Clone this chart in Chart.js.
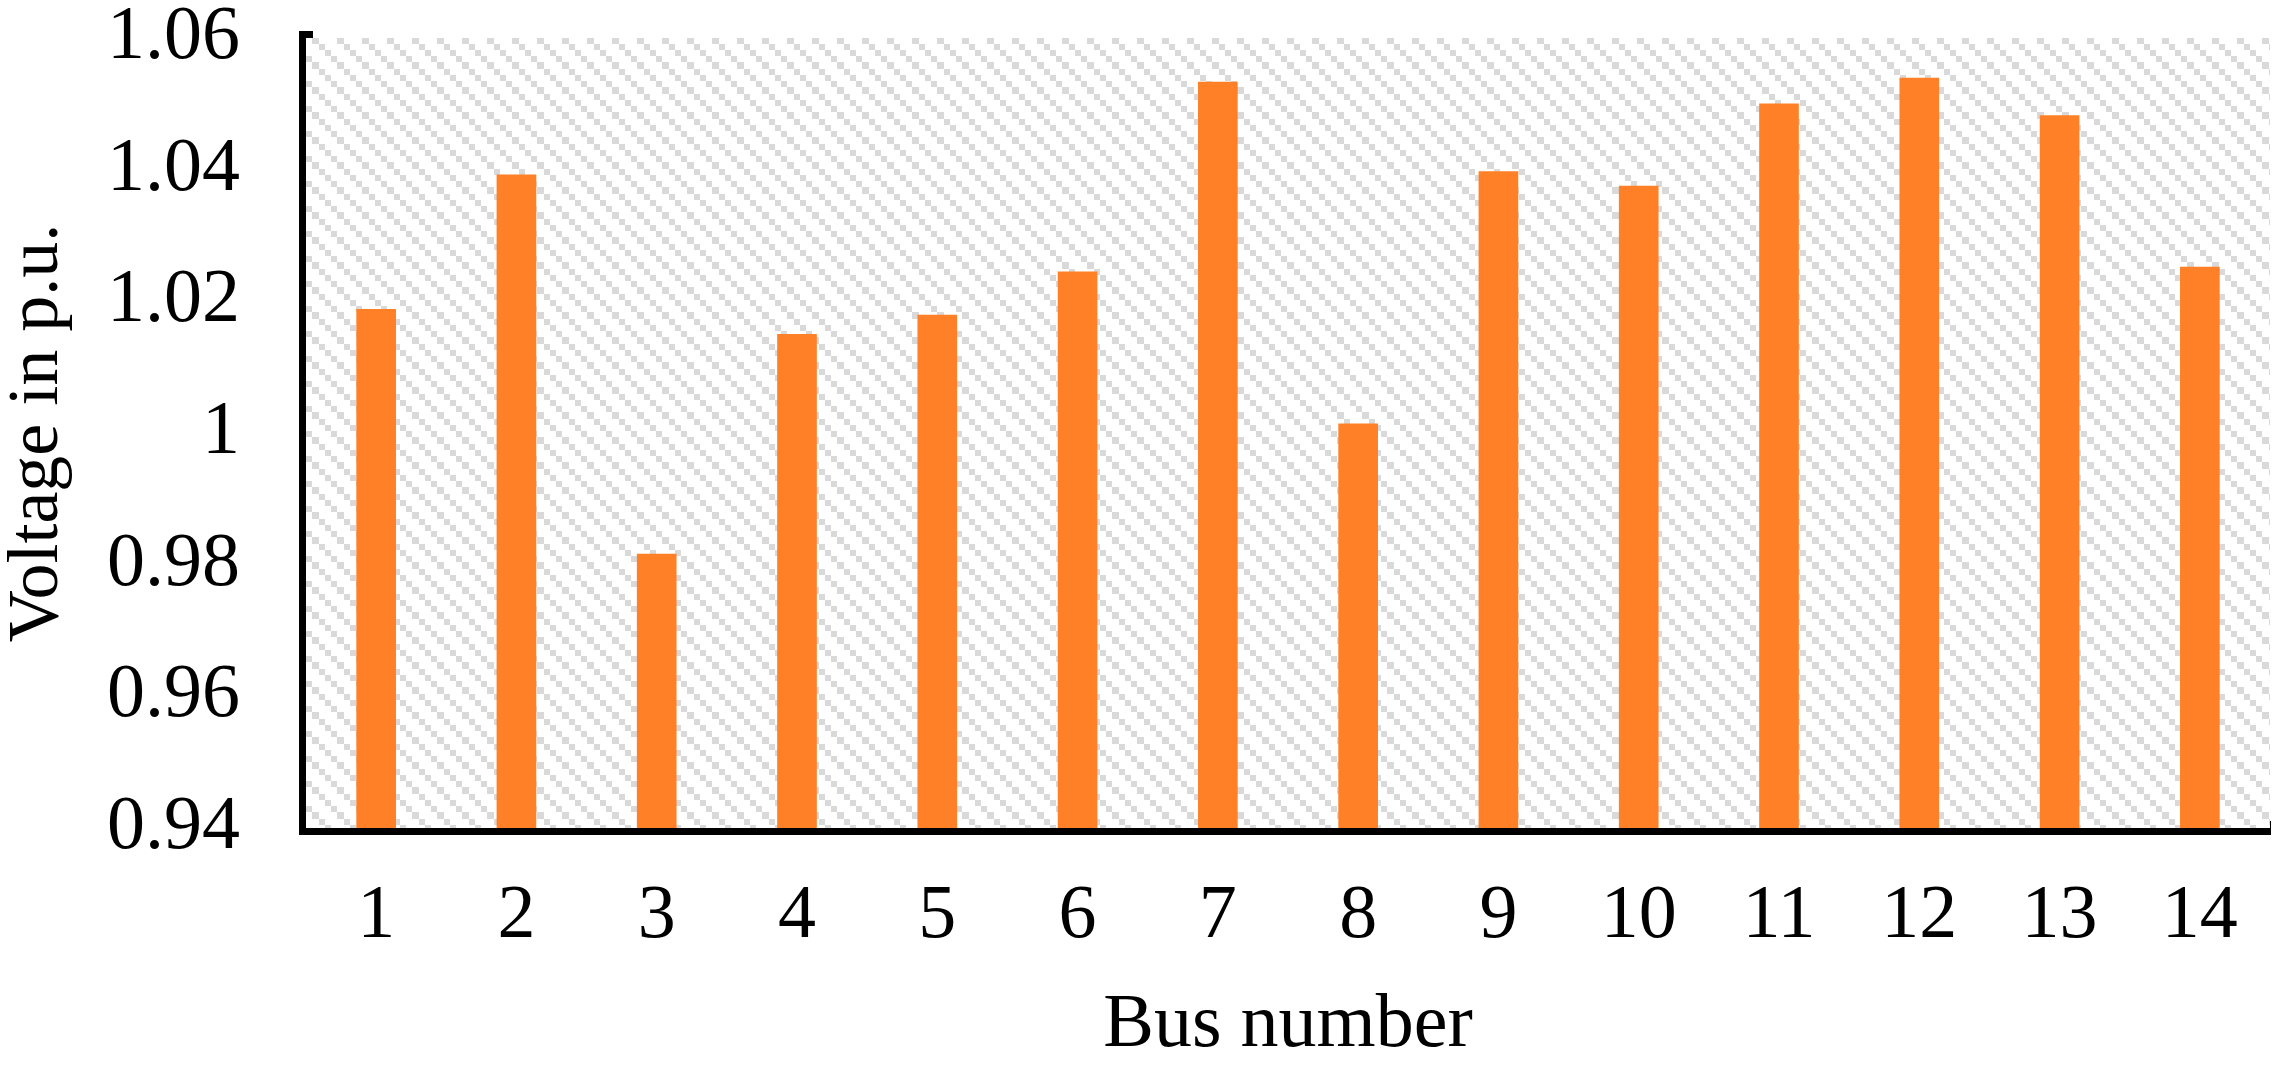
<!DOCTYPE html>
<html>
<head>
<meta charset="utf-8">
<title>Bus voltage</title>
<script src="https://cdn.jsdelivr.net/npm/chart.js@4.4.1/dist/chart.umd.min.js"></script>
<style>
    body { margin: 0; background: #fff; }
</style>
</head>
<body>
<canvas id="chart-sheet" width="2288" height="1066"></canvas>
<script>
// bus numbers on x axis
var busNumbers = ['1', '2', '3', '4', '5', '6', '7', '8', '9', '10', '11', '12', '13', '14'];

// voltage of every bus (p.u.)
var busVoltages = [1.0188, 1.0392, 0.9816, 1.0150, 1.0179, 1.0245, 1.0533,
                   1.0014, 1.0397, 1.0375, 1.0500, 1.0539, 1.0482, 1.0252];

// y axis range and step
var yMin = 0.94;
var yMax = 1.06;
var yStep = 0.02;

var fontFamily = '"Liberation Serif", "Times New Roman", serif';

// builds the grey diagonal hatch used behind the bars
function makeHatch(ctx) {
    var tile = document.createElement('canvas');
    tile.width = 25;
    tile.height = 25;
    var t = tile.getContext('2d');
    t.fillStyle = '#ffffff';
    t.fillRect(0, 0, 25, 25);
    t.fillStyle = '#d9d9d9';
    var pos = [0, 6, 12, 19];
    var size = [6, 6, 7, 6];
    for (var i = 0; i < 4; i++) {
        t.fillRect(pos[i], pos[i], size[i], size[i]);
    }
    return ctx.createPattern(tile, 'repeat');
}

// fills plot area with hatch before bars are drawn
var hatchPlugin = {
    id: 'hatchBackground',
    beforeDatasetsDraw: function (chart) {
        var ctx = chart.ctx;
        var area = chart.chartArea;
        ctx.save();
        ctx.fillStyle = makeHatch(ctx);
        ctx.fillRect(area.left, area.top, area.right - area.left, area.bottom - area.top);
        ctx.restore();
    }
};

// keeps the plot area where the picture has it
function noExtraPadding(scale) {
    scale.paddingTop = 0;
    scale.paddingBottom = 0;
    scale.paddingLeft = 0;
    scale.paddingRight = 0;
}

var canvasContext = document.getElementById('chart-sheet').getContext('2d');

var chart = new Chart(canvasContext, {
    type: 'bar',
    data: {
        labels: busNumbers,
        datasets: [{
            data: busVoltages,
            backgroundColor: '#ff8027',
            borderWidth: 0,
            barThickness: 39
        }]
    },
    options: {
        responsive: false,
        animation: false,
        layout: {
            padding: { top: 38, right: 18, left: 0, bottom: 0 }
        },
        plugins: {
            legend: { display: false },
            tooltip: { enabled: false }
        },
        scales: {
            x: {
                z: 1,
                grid: { display: false, drawTicks: false },
                border: { display: true, color: '#000', width: 14 },
                ticks: {
                    color: '#000',
                    padding: 43,
                    font: { family: fontFamily, size: 76 }
                },
                title: {
                    display: true,
                    text: 'Bus number',
                    color: '#000',
                    padding: 0,
                    font: { family: fontFamily, size: 76, lineHeight: 1.05 }
                },
                afterFit: function (scale) {
                    scale.height = 238;
                    noExtraPadding(scale);
                }
            },
            y: {
                z: 1,
                min: yMin,
                max: yMax,
                grid: { display: false, drawTicks: false },
                border: { display: true, color: '#000', width: 14 },
                ticks: {
                    stepSize: yStep,
                    color: '#000',
                    padding: 66,
                    font: { family: fontFamily, size: 76 },
                    callback: function (value) {
                        return String(Number(value.toFixed(2)));
                    }
                },
                title: {
                    display: true,
                    text: 'Voltage in p.u.',
                    color: '#000',
                    padding: 0,
                    font: { family: fontFamily, size: 72, lineHeight: 1.05 }
                },
                afterFit: function (scale) {
                    scale.width = 306;
                    noExtraPadding(scale);
                }
            }
        }
    },
    plugins: [hatchPlugin]
});
</script>
</body>
</html>
